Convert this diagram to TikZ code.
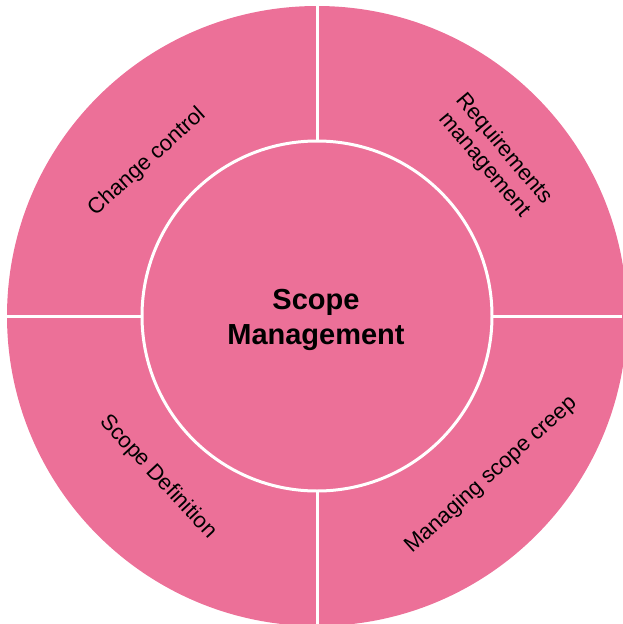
\documentclass[tikz,border=0pt]{standalone}
\usepackage{fontspec}
\setmainfont{Liberation Sans}
\begin{document}
\begin{tikzpicture}[x=1pt,y=-1pt,
  segfill/.style={fill=segpink},
  divider/.style={draw=white,line width=3pt},
  seglabel/.style={font=\fontsize{22}{25}\selectfont,align=center,text=black},
  hublabel/.style={font=\fontsize{29}{35}\selectfont\bfseries,align=center,text=black}]
\definecolor{segpink}{RGB}{236,112,152}
\useasboundingbox (0,0) rectangle (622,624);
\coordinate (c) at (317,316);
% outer ring of four segments
\fill[segfill] (c) circle[radius=310];
\draw[divider] (317,0) -- (317,624);
\draw[divider] (0,316) -- (622,316);
% central hub
\draw[divider,fill=segpink] (c) circle[radius=175];
\node[hublabel] (hub) at (316,320) {Scope\\Management};
% segment labels
\node[seglabel,rotate=42] (change) at (147,162) {Change control};
\node[seglabel,rotate=-50] (req) at (494,157) {Requirements\\management};
\node[seglabel,rotate=42] (creep) at (491,475) {Managing scope creep};
\node[seglabel,rotate=-47] (defn) at (158,477) {Scope Definition};
\end{tikzpicture}
\end{document}
